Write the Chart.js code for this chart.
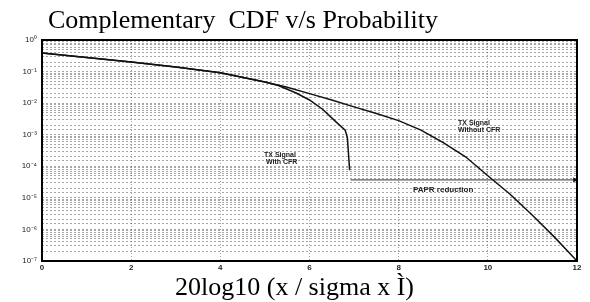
<!DOCTYPE html>
<html>
<head>
<meta charset="utf-8">
<script src="https://cdn.jsdelivr.net/npm/chart.js@4"></script>
<style>
  html, body { margin: 0; padding: 0; background: #fff; }
  #wrap { width: 590px; height: 302px; position: relative; }
</style>
</head>
<body>
<div id="wrap"><canvas id="ccdfChart"></canvas></div>
<script>
// values
const xWithout = [0, 1, 2, 3, 4, 5, 5.5, 6, 6.5, 7, 7.5, 8, 8.5, 9, 9.5, 10, 10.5, 11, 11.5, 12];
const pWithout = [0.39, 0.28, 0.20, 0.14, 0.091, 0.047, 0.032, 0.020, 0.0126, 0.0076, 0.0047, 0.0028,
                  0.0014, 5.6e-4, 2.0e-4, 5.0e-5, 1.3e-5, 2.8e-6, 5.6e-7, 1.0e-7];

const xWith = [0, 1, 2, 3, 4, 5, 5.3, 5.7, 6, 6.3, 6.6, 6.8, 6.85, 6.9];
const pWith = [0.39, 0.28, 0.20, 0.14, 0.091, 0.047, 0.036, 0.021, 0.0126, 0.0063, 0.0025, 0.0014, 8.0e-4, 7.5e-5];

const xPapr = [6.92, 11.95];
const pPapr = [3.7e-5, 3.7e-5];

const xTicks = [0, 2, 4, 6, 8, 10, 12];
const yDecades = [0, -1, -2, -3, -4, -5, -6, -7];
const yDecadeLabels = ["10⁰", "10⁻¹", "10⁻²", "10⁻³", "10⁻⁴", "10⁻⁵", "10⁻⁶", "10⁻⁷"];

const titleText = "Complementary  CDF v/s Probability";
const xTitleText = "20log10 (x / sigma x Ì)";

function toPoints(xs, ys) {
  return xs.map((x, i) => ({ x: x, y: ys[i] }));
}

// frame, title, axis label and the in-plot notes
const textPlugin = {
  id: "textPlugin",
  afterDraw(chart) {
    const ctx = chart.ctx;
    const a = chart.chartArea;
    ctx.save();
    ctx.strokeStyle = "#000";
    ctx.lineWidth = 2;
    ctx.strokeRect(a.left, a.top, a.right - a.left, a.bottom - a.top);

    ctx.fillStyle = "#000";
    ctx.textBaseline = "alphabetic";
    ctx.font = "26px 'Liberation Serif', 'Times New Roman', serif";
    ctx.fillText(titleText, 48, 28);
    ctx.fillText(xTitleText, 175, 295);

    ctx.font = "bold 7px 'Liberation Sans', Arial, sans-serif";
    ctx.fillStyle = "#222";
    ctx.textBaseline = "middle";
    ctx.fillText("TX Signal", 458, 123);
    ctx.fillText("Without CFR", 458, 130);
    ctx.fillText("TX Signal", 264, 155);
    ctx.fillText("With CFR", 266, 162);
    ctx.font = "bold 8px 'Liberation Sans', Arial, sans-serif";
    ctx.fillText("PAPR reduction", 413, 190);
    ctx.restore();
  }
};

const ctxCcdf = document.getElementById("ccdfChart").getContext("2d");
const ccdfChart = new Chart(ctxCcdf, {
  type: "line",
  data: {
    datasets: [
      {
        label: "TX Signal Without CFR",
        data: toPoints(xWithout, pWithout),
        borderColor: "#111",
        borderWidth: 1.5,
        pointRadius: 0,
        tension: 0,
      },
      {
        label: "TX Signal With CFR",
        data: toPoints(xWith, pWith),
        borderColor: "#111",
        borderWidth: 1.5,
        pointRadius: 0,
        tension: 0,
      },
      {
        label: "PAPR reduction",
        data: toPoints(xPapr, pPapr),
        borderColor: "#333",
        backgroundColor: "#111",
        borderWidth: 1,
        pointStyle: "triangle",
        pointRotation: 90,
        pointRadius: [0, 3],
        pointBorderWidth: 0,
        tension: 0,
      },
    ],
  },
  options: {
    responsive: true,
    maintainAspectRatio: false,
    animation: false,
    layout: { padding: { top: 40, right: 13, bottom: 0, left: 0 } },
    plugins: {
      legend: { display: false },
      tooltip: { enabled: false },
    },
    scales: {
      x: {
        type: "linear",
        min: 0,
        max: 12,
        afterFit: function(scale) { scale.height = 41; },
        afterBuildTicks: function(scale) {
          scale.ticks = xTicks.map(v => ({ value: v }));
        },
        ticks: {
          color: "#222",
          padding: 2,
          maxRotation: 0,
          font: { size: 8, weight: "bold", family: "'Liberation Sans', Arial, sans-serif" },
        },
        grid: { color: "rgba(0,0,0,0.35)", drawTicks: false, lineWidth: 1 },
        border: { display: false, dash: [1, 2] },
      },
      y: {
        type: "logarithmic",
        min: 1e-7,
        max: 1,
        afterFit: function(scale) { scale.width = 42; },
        ticks: {
          autoSkip: false,
          color: "#222",
          padding: 5,
          font: { size: 8, family: "'Liberation Sans', Arial, sans-serif" },
          callback: function(value) {
            const e = Math.log10(value);
            const idx = yDecades.indexOf(Math.round(e));
            if (idx >= 0 && Math.abs(e - Math.round(e)) < 1e-6) {
              return yDecadeLabels[idx];
            }
            return "";
          },
        },
        grid: { color: "rgba(0,0,0,0.35)", drawTicks: false, lineWidth: 1 },
        border: { display: false, dash: [2, 2] },
      },
    },
  },
  plugins: [textPlugin],
});
</script>
</body>
</html>
